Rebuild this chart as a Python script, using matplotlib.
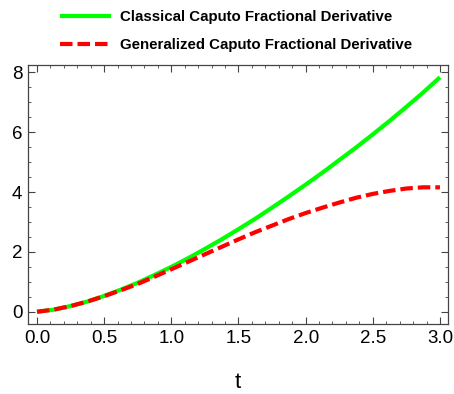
import matplotlib
matplotlib.use("Agg")
import matplotlib.pyplot as plt
from matplotlib.ticker import MultipleLocator

t_vals = [0.0, 0.125, 0.25, 0.375, 0.5, 0.625, 0.75, 0.875, 1.0, 1.125, 1.25, 1.375,
          1.5, 1.625, 1.75, 1.875, 2.0, 2.125, 2.25, 2.375, 2.5, 2.625, 2.75, 2.875, 3.0]
classical = [0.0, 0.07, 0.19, 0.34, 0.53, 0.74, 0.97, 1.23, 1.50, 1.79, 2.10, 2.42,
             2.76, 3.11, 3.48, 3.86, 4.25, 4.65, 5.07, 5.49, 5.93, 6.38, 6.85, 7.33, 7.84]
generalized = [0.0, 0.07, 0.19, 0.34, 0.52, 0.72, 0.93, 1.17, 1.42, 1.67, 1.92, 2.17,
               2.42, 2.66, 2.88, 3.10, 3.30, 3.48, 3.65, 3.81, 3.94, 4.04, 4.12, 4.16, 4.16]
labels = ["Classical Caputo Fractional Derivative",
          "Generalized Caputo Fractional Derivative"]
x_label = "t"

plt.rcParams['font.family'] = ['Liberation Sans', 'DejaVu Sans']

fig = plt.figure(figsize=(4.54, 3.94), dpi=100)
ax = fig.add_axes([28/454, 1-324/394, (448-28)/454, (324-65)/394])

ax.plot(t_vals, classical, color='#00ff00', lw=3.0, label=labels[0], solid_capstyle='butt')
ax.plot(t_vals, generalized, color='#ff0000', lw=3.0, ls=(0, (3.0, 1.2)), label=labels[1])

ax.set_xlim(-0.067, 3.06)
ax.set_ylim(-0.41, 8.25)
ax.xaxis.set_major_locator(MultipleLocator(0.5))
ax.xaxis.set_minor_locator(MultipleLocator(0.1))
ax.yaxis.set_major_locator(MultipleLocator(2))
ax.yaxis.set_minor_locator(MultipleLocator(0.5))
ax.xaxis.set_major_formatter(matplotlib.ticker.FormatStrFormatter('%.1f'))
ax.tick_params(which='both', direction='in', top=True, right=True, color='#444444', labelsize=13.5)
ax.tick_params(which='major', length=5, width=0.8, pad=4)
ax.tick_params(which='minor', length=2.5, width=0.6)
for s in ax.spines.values():
    s.set_color('#444444')
    s.set_linewidth(0.9)
ax.set_xlabel(x_label, fontsize=16, labelpad=18)

leg = fig.legend(loc='upper left', bbox_to_anchor=(60/454, 1-10/394), frameon=False,
                 prop={'weight': 'bold', 'size': 10.8}, handlelength=3.4, handletextpad=0.6,
                 labelspacing=0.95, borderpad=0, borderaxespad=0)

fig.savefig('out.png', dpi=100)
